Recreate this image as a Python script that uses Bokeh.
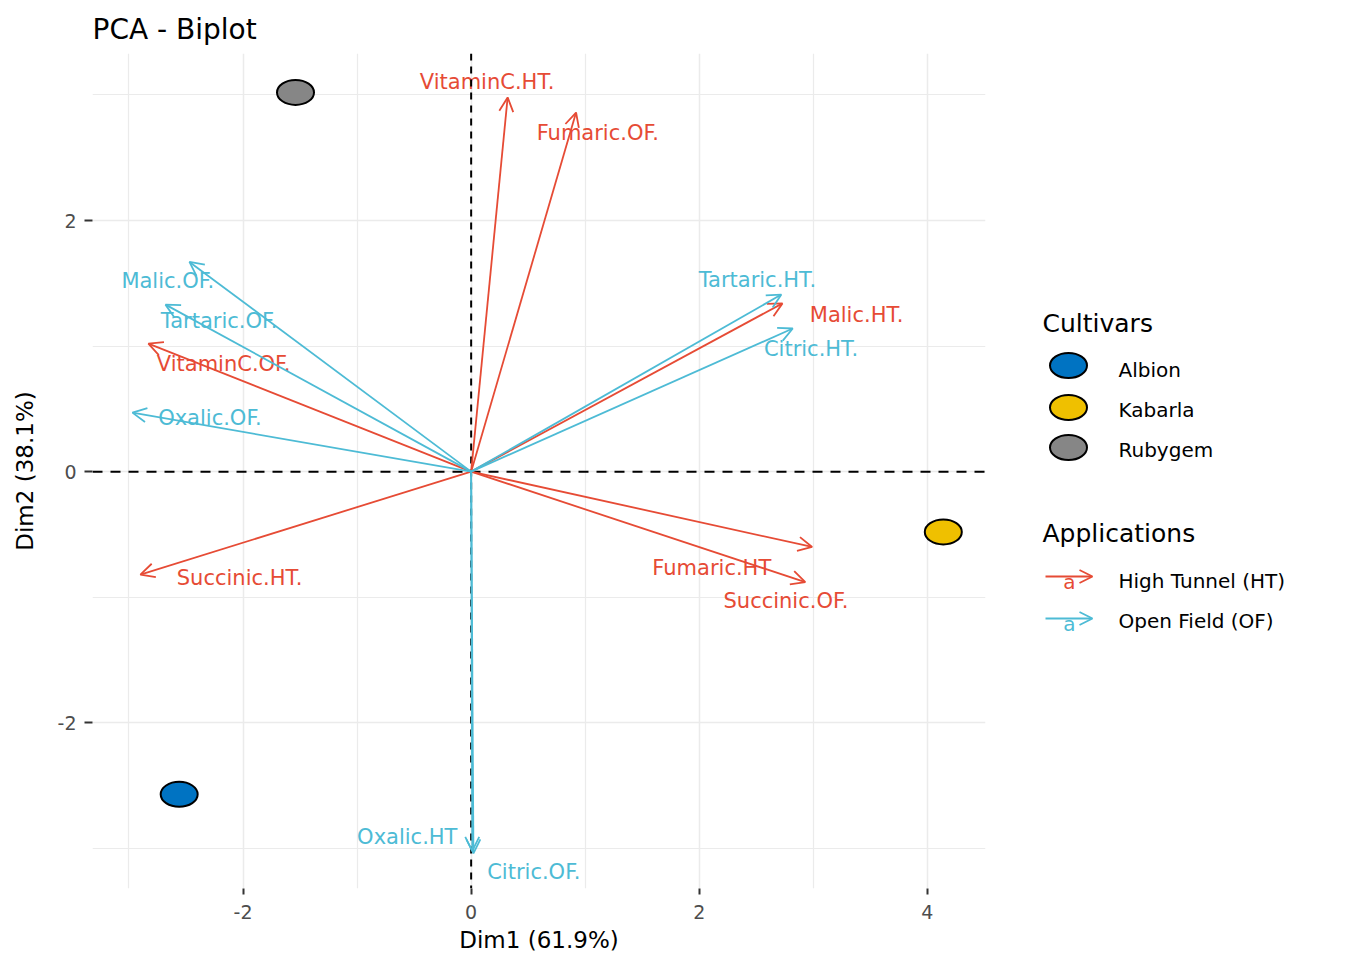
from bokeh.plotting import figure
from bokeh.models import (ColumnDataSource, Arrow, OpenHead, Span, Range1d,
                          FixedTicker)
from bokeh.layouts import row
from bokeh.core.properties import value
from bokeh.embed import file_html
from bokeh.resources import INLINE

FONT = "DejaVu Sans"
RED = "#E64B35"
BLUE = "#4DBBD5"

# ---------------- data ----------------
cultivars = ["Albion", "Kabarla", "Rubygem"]
cultivar_colors = ["#0073C2", "#EFC000", "#868686"]
ind_x = [-2.56, 4.14, -1.54]
ind_y = [-2.57, -0.48, 3.02]

variables = ["VitaminC.HT.", "Fumaric.OF.", "Malic.OF.", "Tartaric.OF.",
             "VitaminC.OF.", "Oxalic.OF.", "Succinic.HT.", "Tartaric.HT.",
             "Malic.HT.", "Citric.HT.", "Fumaric.HT", "Succinic.OF.",
             "Oxalic.HT", "Citric.OF."]
var_x = [0.32, 0.92, -2.47, -2.68, -2.83, -2.97, -2.90, 2.72, 2.73, 2.82,
         2.99, 2.93, 0.02, 0.01]
var_y = [2.98, 2.86, 1.67, 1.33, 1.02, 0.47, -0.82, 1.41, 1.34, 1.14,
         -0.60, -0.88, -3.04, -3.02]
# arrow colour group as drawn
var_group = ["HT", "HT", "OF", "OF", "HT", "OF", "HT", "OF", "HT", "OF",
             "HT", "HT", "OF", "OF"]
lab_x = [0.14, 1.11, -2.66, -2.21, -2.17, -2.29, -2.03, 2.51, 3.38, 2.98,
         2.11, 2.76, -0.56, 0.55]
lab_y = [3.10, 2.70, 1.52, 1.20, 0.86, 0.43, -0.85, 1.53, 1.25, 0.98,
         -0.77, -1.03, -2.91, -3.19]

applications = ["High Tunnel (HT)", "Open Field (OF)"]
app_colors = [RED, BLUE]

x_ticks = [-2, 0, 2, 4]
x_tick_labels = ["-2", "0", "2", "4"]
x_minor = [-3, -1, 1, 3]
y_ticks = [-2, 0, 2]
y_tick_labels = ["-2", "0", "2"]
y_minor = [-3, -1, 1, 3]

# ---------------- main figure ----------------
p = figure(width=1005, height=955, x_range=Range1d(-3.32, 4.51),
           y_range=Range1d(-3.32, 3.33), output_backend="svg",
           toolbar_location=None, min_border_left=92, min_border_right=20,
           min_border_top=53, min_border_bottom=67)
p.outline_line_color = None
p.background_fill_color = "white"

p.title.text = "PCA - Biplot"
p.title.text_font = FONT
p.title.text_font_size = "28px"
p.title.text_font_style = "normal"
p.title.text_color = "black"
p.title.align = "left"
p.title.standoff = 16

p.xaxis.ticker = FixedTicker(ticks=x_ticks, minor_ticks=x_minor)
p.yaxis.ticker = FixedTicker(ticks=y_ticks, minor_ticks=y_minor)
p.xaxis.major_label_overrides = dict(zip(x_ticks, x_tick_labels))
p.yaxis.major_label_overrides = dict(zip(y_ticks, y_tick_labels))
p.xaxis.axis_label = "Dim1 (61.9%)"
p.yaxis.axis_label = "Dim2 (38.1%)"
for ax in (p.xaxis, p.yaxis):
    ax.axis_line_color = None
    ax.major_tick_line_color = "#333333"
    ax.major_tick_line_width = 2
    ax.major_tick_in = 0
    ax.minor_tick_out = 0
    ax.minor_tick_in = 0
    ax.major_label_text_font = FONT
    ax.major_label_text_font_size = "19px"
    ax.major_label_text_color = "#4D4D4D"
    ax.axis_label_text_font = FONT
    ax.axis_label_text_font_size = "23px"
    ax.axis_label_text_font_style = "normal"
    ax.axis_label_text_color = "black"
p.xaxis.major_tick_out = 6
p.yaxis.major_tick_out = 8
p.xaxis.major_label_standoff = 10
p.yaxis.major_label_standoff = 8
p.xaxis.axis_label_standoff = 5
p.yaxis.axis_label_standoff = 17

for g in (p.xgrid, p.ygrid):
    g.grid_line_color = "#EBEBEB"
    g.grid_line_width = 1.5
    g.minor_grid_line_color = "#EBEBEB"
    g.minor_grid_line_width = 1.2

p.add_layout(Span(location=0, dimension="height", line_color="black",
                  line_dash="7 6", line_width=2))
p.add_layout(Span(location=0, dimension="width", line_color="black",
                  line_dash="10 8", line_width=2))

for grp, col in (("HT", RED), ("OF", BLUE)):
    idx = [i for i, g in enumerate(var_group) if g == grp]
    src = ColumnDataSource(dict(x=[var_x[i] for i in idx],
                                y=[var_y[i] for i in idx]))
    p.add_layout(Arrow(end=OpenHead(size=14, line_color=col, line_width=1.8),
                       x_start=0, y_start=0, x_end="x", y_end="y",
                       source=src, line_color=col, line_width=1.8))

# label colours as drawn in the reference
lab_colors = [RED, RED, BLUE, BLUE, RED, BLUE, RED, BLUE, RED, BLUE,
              RED, RED, BLUE, BLUE]
p.text(x=lab_x, y=lab_y, text=variables, text_color=lab_colors,
       text_align="center", text_baseline="middle",
       text_font=value(FONT), text_font_size="21px")

p.ellipse(x=ind_x, y=ind_y, width=37, height=25, width_units="screen",
          height_units="screen", fill_color=cultivar_colors,
          line_color="black", line_width=2)

# ---------------- legend panel ----------------
# The row aligns this panel's frame with the main frame (page y 53..888),
# so the ranges below map directly onto page pixels.
X0, W2 = 1005, 350
q = figure(width=W2, height=955, x_range=Range1d(X0, X0 + W2),
           y_range=Range1d(888, 53), output_backend="svg",
           toolbar_location=None, min_border=0, min_border_top=53,
           min_border_bottom=67)
q.axis.visible = False
q.grid.visible = False
q.outline_line_color = None

q.text(x=[1042, 1042], y=[323, 533], text=["Cultivars", "Applications"],
       text_color="black", text_align="left", text_baseline="middle",
       text_font=value(FONT), text_font_size="25px")

ly = [365, 407, 447]
q.ellipse(x=[1068] * 3, y=ly, width=37, height=25, width_units="screen",
          height_units="screen", fill_color=cultivar_colors,
          line_color="black", line_width=2)
q.text(x=[1118] * 3, y=[369, 409, 449], text=cultivars,
       text_color="black", text_align="left", text_baseline="middle",
       text_font=value(FONT), text_font_size="20px")

ay = [576, 618]
for yy, col in zip(ay, app_colors):
    q.add_layout(Arrow(end=OpenHead(size=13, line_color=col, line_width=1.8),
                       x_start=1045, y_start=yy, x_end=1092, y_end=yy,
                       line_color=col, line_width=1.8))
q.text(x=[1069, 1069], y=[581, 623], text=["a", "a"],
       text_color=app_colors, text_align="center", text_baseline="middle",
       text_font=value(FONT), text_font_size="20px")
q.text(x=[1118, 1118], y=[580, 620], text=applications,
       text_color="black", text_align="left", text_baseline="middle",
       text_font=value(FONT), text_font_size="20px")

layout = row(p, q)
open("out.html", "w").write(file_html(layout, INLINE))
